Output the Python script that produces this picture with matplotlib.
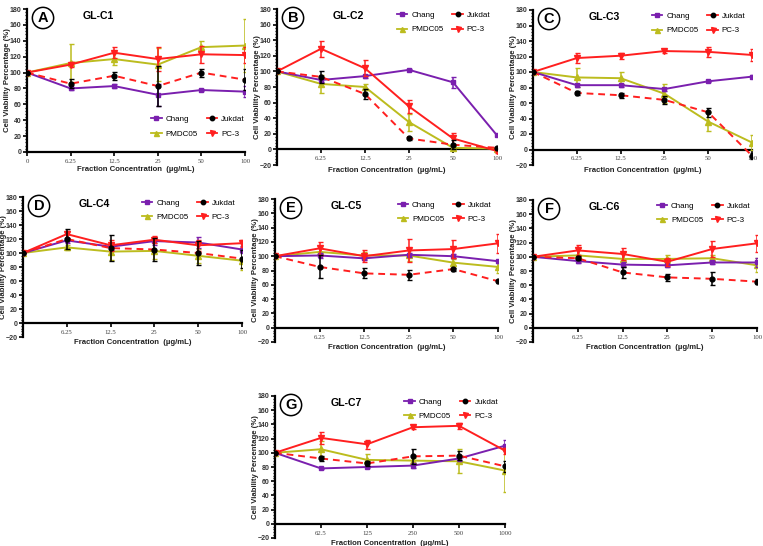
import matplotlib
matplotlib.use('Agg')
import matplotlib.pyplot as plt
from matplotlib.ticker import MultipleLocator
from matplotlib.lines import Line2D

plt.rcParams['font.family'] = ['Liberation Sans', 'DejaVu Sans']

W, H = 763, 546

conc_ug = ['0', '6.25', '12.5', '25', '50', '100']
conc_g7 = ['0', '62.5', '125', '250', '500', '1000']
series_names = ['Chang', 'Jukdat', 'PMDC05', 'PC-3']

# GL-C1
c1_chang = [100, 80, 83, 72, 78, 76]
c1_chang_err = [0, 2, 2, 14, 1, 7]
c1_jukdat = [100, 86, 96, 83, 100, 91]
c1_jukdat_err = [0, 6, 5, 25, 5, 13]
c1_pmdc = [100, 112, 117, 110, 132, 134]
c1_pmdc_err = [0, 24, 7, 21, 8, 33]
c1_pc3 = [100, 110, 125, 117, 123, 122]
c1_pc3_err = [0, 3, 7, 15, 11, 10]

# GL-C2
c2_chang = [100, 89, 94, 102, 86, 18]
c2_chang_err = [0, 3, 2, 1, 7, 1]
c2_jukdat = [100, 93, 71, 14, 6, 2]
c2_jukdat_err = [0, 8, 6, 2, 6, 1]
c2_pmdc = [100, 84, 80, 35, 2, 1]
c2_pmdc_err = [0, 12, 4, 11, 2, 1]
c2_pc3 = [100, 129, 104, 55, 14, -2]
c2_pc3_err = [0, 10, 10, 8, 7, 2]

# GL-C3
c3_chang = [100, 83, 83, 78, 88, 94]
c3_chang_err = [0, 2, 2, 2, 1, 2]
c3_jukdat = [100, 73, 70, 64, 48, -8]
c3_jukdat_err = [0, 3, 3, 5, 6, 4]
c3_pmdc = [100, 93, 92, 72, 36, 9]
c3_pmdc_err = [0, 12, 8, 12, 12, 10]
c3_pc3 = [100, 118, 121, 127, 126, 122]
c3_pc3_err = [0, 6, 4, 2, 6, 8]

# GL-C4
c4_chang = [100, 118, 109, 117, 115, 105]
c4_chang_err = [0, 4, 5, 6, 8, 5]
c4_jukdat = [100, 120, 107, 105, 100, 92]
c4_jukdat_err = [0, 14, 19, 17, 17, 13]
c4_pmdc = [100, 108, 102, 103, 96, 89]
c4_pmdc_err = [0, 4, 12, 12, 10, 13]
c4_pc3 = [100, 127, 111, 119, 111, 114]
c4_pc3_err = [0, 5, 8, 5, 8, 5]

# GL-C5
c5_chang = [100, 101, 97, 102, 100, 93]
c5_chang_err = [0, 3, 3, 3, 3, 2]
c5_jukdat = [100, 85, 76, 74, 82, 65]
c5_jukdat_err = [0, 16, 7, 7, 2, 2]
c5_pmdc = [100, 106, 101, 101, 91, 85]
c5_pmdc_err = [0, 6, 5, 8, 5, 8]
c5_pc3 = [100, 111, 100, 108, 110, 118]
c5_pc3_err = [0, 9, 8, 16, 12, 13]

# GL-C6
c6_chang = [100, 94, 89, 88, 92, 92]
c6_chang_err = [0, 3, 4, 2, 2, 6]
c6_jukdat = [100, 98, 78, 71, 69, 65]
c6_jukdat_err = [0, 3, 8, 5, 9, 4]
c6_pmdc = [100, 102, 97, 97, 98, 88]
c6_pmdc_err = [0, 10, 10, 6, 4, 10]
c6_pc3 = [100, 109, 104, 93, 111, 119]
c6_pc3_err = [0, 7, 8, 6, 11, 12]

# GL-C7
c7_chang = [100, 78, 80, 82, 92, 110]
c7_chang_err = [0, 1, 2, 3, 4, 8]
c7_jukdat = [100, 92, 85, 95, 96, 81]
c7_jukdat_err = [0, 3, 4, 11, 6, 8]
c7_pmdc = [100, 105, 90, 89, 88, 75]
c7_pmdc_err = [0, 12, 9, 4, 17, 30]
c7_pc3 = [100, 121, 112, 136, 138, 103]
c7_pc3_err = [0, 8, 6, 2, 4, 4]

PURPLE = '#7a1fae'
OLIVE = '#bcbc1e'
RED = '#ff1f1f'
BLACK = '#000000'

fig = plt.figure(figsize=(W / 100, H / 100), dpi=100)


def add_axes_px(l, t, r, b):
    return fig.add_axes([l / W, 1 - b / H, (r - l) / W, (b - t) / H])


def draw_panel(rect, letter, title, xt, data, ymin, legend_loc, legend_anchor):
    l, t, r, b = rect
    ax = add_axes_px(l, t, r, b)
    x = list(range(len(xt)))
    chang, chang_e, juk, juk_e, pm, pm_e, pc, pc_e = data
    lw = 1.4
    ax.errorbar(x, pm, yerr=pm_e, color=OLIVE, marker='^', ms=4, lw=lw,
                capsize=1.8, elinewidth=1.1, zorder=3)
    ax.errorbar(x, chang, yerr=chang_e, color=PURPLE, marker='s', ms=3.5, lw=lw,
                capsize=1.8, elinewidth=1.1, zorder=4)
    ax.errorbar(x, pc, yerr=pc_e, color=RED, marker='v', ms=4, lw=lw,
                capsize=1.8, elinewidth=1.1, zorder=5)
    ax.plot(x, juk, color=RED, ls=(0, (3.5, 2.5)), lw=lw, zorder=6)
    ax.errorbar(x, juk, yerr=juk_e, color=BLACK, marker='o', ms=3.5, lw=0,
                capsize=1.8, elinewidth=1.1, zorder=7)

    ax.set_xlim(0, 5)
    ax.set_ylim(ymin, 180)
    for s in ['top', 'right']:
        ax.spines[s].set_visible(False)
    ax.spines['left'].set_linewidth(1.6)
    ax.spines['bottom'].set_linewidth(1.6)
    ax.spines['bottom'].set_position(('data', 0))
    ax.yaxis.set_major_locator(MultipleLocator(20))
    ax.yaxis.set_minor_locator(MultipleLocator(4))
    ax.tick_params(axis='y', which='major', length=3, width=1.2, labelsize=5.0, pad=1)
    ax.tick_params(axis='y', which='minor', length=1.8, width=0.9)
    ax.tick_params(axis='x', which='major', length=3, width=1.2, labelsize=4.9, pad=2)
    if ymin == 0:
        ax.set_xticks(x)
        ax.set_xticklabels(xt)
    else:
        ax.set_xticks(x[1:])
        ax.set_xticklabels(xt[1:])
    for lab in ax.get_xticklabels():
        lab.set_fontfamily('Liberation Serif')
        lab.set_color('#444444')
    for lab in ax.get_yticklabels():
        lab.set_fontweight('bold')
        lab.set_color('#333333')

    ax.set_ylabel('Cell Viability Percentage (%)', fontsize=5.6, fontweight='bold',
                  color='#222222')
    ax.yaxis.set_label_coords(-16 / (r - l), 0.5)
    ax.set_xlabel('Fraction Concentration  (µg/mL)', fontsize=5.6, fontweight='bold',
                  color='#222222')
    if ymin == 0:
        ax.xaxis.set_label_coords(0.5, -14 / (b - t))
    else:
        ax.xaxis.set_label_coords(0.5, -2 / (b - t))

    # letter circle
    fig.text((l + 16) / W, 1 - (t + 9) / H, letter, fontsize=10.5, fontweight='bold',
             ha='center', va='center',
             bbox=dict(boxstyle='circle,pad=0.25', fc='white', ec='black', lw=1.1))
    fig.text((l + 56) / W, 1 - (t + 2) / H, title, fontsize=7.6, fontweight='bold',
             ha='left', va='top')

    # column-wise fill: col1 = Chang, PMDC05 ; col2 = Jukdat, PC-3
    handles = [
        Line2D([], [], color=PURPLE, marker='s', ms=3.2, lw=1.3),
        Line2D([], [], color=OLIVE, marker='^', ms=3.6, lw=1.3),
        Line2D([], [], color=RED, marker='o', mfc=BLACK, mec=BLACK, ms=3.2, lw=1.3),
        Line2D([], [], color=RED, marker='v', ms=3.6, lw=1.3),
    ]
    labels = [series_names[0], series_names[2], series_names[1], series_names[3]]
    ax.legend(handles, labels, ncol=2, frameon=False, fontsize=5.8,
              loc=legend_loc, bbox_to_anchor=legend_anchor, handlelength=1.3,
              handletextpad=0.5, columnspacing=1.1, labelspacing=0.85,
              borderaxespad=0, borderpad=0)
    return ax


draw_panel((27, 9, 245, 152), 'A', 'GL-C1', conc_ug,
           (c1_chang, c1_chang_err, c1_jukdat, c1_jukdat_err,
            c1_pmdc, c1_pmdc_err, c1_pc3, c1_pc3_err), 0,
           'lower right', (1.0, 0.1))
draw_panel((277, 9, 497, 165), 'B', 'GL-C2', conc_ug,
           (c2_chang, c2_chang_err, c2_jukdat, c2_jukdat_err,
            c2_pmdc, c2_pmdc_err, c2_pc3, c2_pc3_err), -20,
           'upper right', (0.97, 0.985))
draw_panel((533, 10, 752, 165), 'C', 'GL-C3', conc_ug,
           (c3_chang, c3_chang_err, c3_jukdat, c3_jukdat_err,
            c3_pmdc, c3_pmdc_err, c3_pc3, c3_pc3_err), -20,
           'upper right', (0.97, 0.985))
draw_panel((23, 197, 242, 337), 'D', 'GL-C4', conc_ug,
           (c4_chang, c4_chang_err, c4_jukdat, c4_jukdat_err,
            c4_pmdc, c4_pmdc_err, c4_pc3, c4_pc3_err), -20,
           'upper right', (0.97, 0.985))
draw_panel((275, 199, 498, 342), 'E', 'GL-C5', conc_ug,
           (c5_chang, c5_chang_err, c5_jukdat, c5_jukdat_err,
            c5_pmdc, c5_pmdc_err, c5_pc3, c5_pc3_err), -20,
           'upper right', (0.97, 0.985))
draw_panel((533, 200, 757, 342), 'F', 'GL-C6', conc_ug,
           (c6_chang, c6_chang_err, c6_jukdat, c6_jukdat_err,
            c6_pmdc, c6_pmdc_err, c6_pc3, c6_pc3_err), -20,
           'upper right', (0.97, 0.985))
draw_panel((275, 396, 505, 538), 'G', 'GL-C7', conc_g7,
           (c7_chang, c7_chang_err, c7_jukdat, c7_jukdat_err,
            c7_pmdc, c7_pmdc_err, c7_pc3, c7_pc3_err), -20,
           'upper right', (0.97, 0.985))

fig.savefig('out.png', dpi=100)
